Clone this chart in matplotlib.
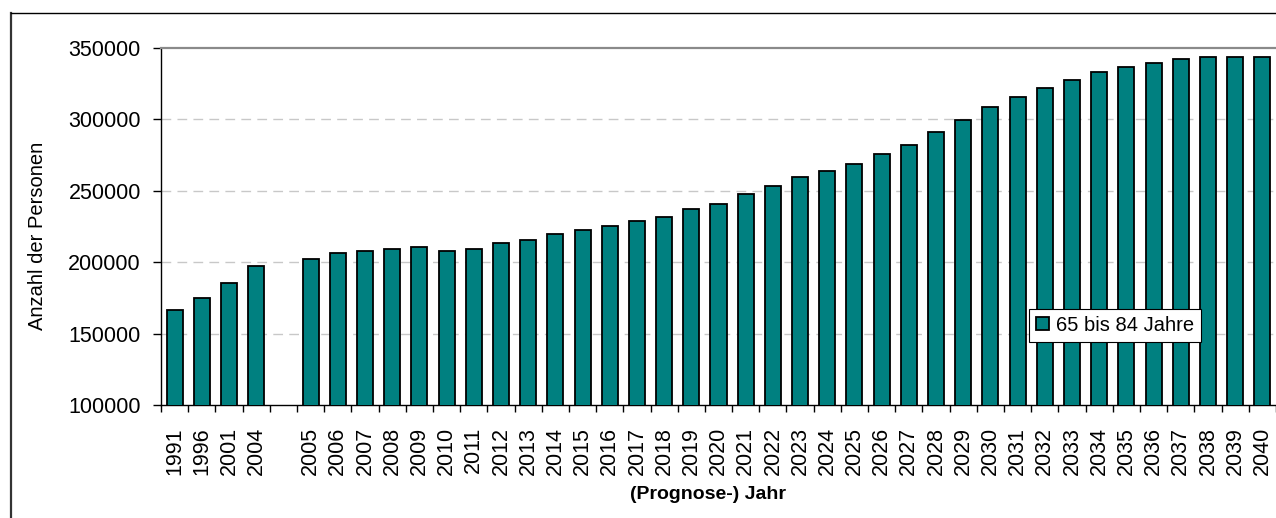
import numpy as np
import matplotlib
matplotlib.use("Agg")
import matplotlib.pyplot as plt
from matplotlib.lines import Line2D

plt.rcParams['font.family'] = ['Liberation Sans', 'DejaVu Sans']

# Daten: Personen 65 bis 84 Jahre
hist_years = ['1991', '1996', '2001', '2004']
hist_values = [166400, 174600, 185200, 197300]

prog_years = [str(y) for y in range(2005, 2041)]
prog_values = [202400, 206600, 208000, 209200, 210500, 207800, 209200, 213200,
               215700, 220000, 222500, 225100, 229100, 231700, 237100, 241000,
               247600, 253200, 259700, 263600, 268800, 275700, 282200, 291500,
               299700, 308800, 315400, 322200, 327600, 332900, 336900, 339500,
               342000, 343400, 343400, 343400]

series_name = '65 bis 84 Jahre'
y_ticks = [100000, 150000, 200000, 250000, 300000, 350000]

# Kategorien: Lücke zwischen 2004 und 2005
labels = hist_years + [''] + prog_years
values = hist_values + [np.nan] + prog_values
pos = np.arange(len(labels))

W, H = 1276, 518
fig = plt.figure(figsize=(W / 100, H / 100), dpi=100)
ax = fig.add_axes([161 / W, 1 - 405 / H, 1115 / W, 357 / H])

ax.bar(pos, values, width=0.59, color='#008080', edgecolor='black',
       linewidth=1.3, label=series_name, zorder=3)

ax.set_xlim(-0.5, len(labels) - 0.5)
ax.set_ylim(100000, 350000)
ax.set_yticks(y_ticks)
ax.set_yticklabels([str(v) for v in y_ticks])

# Gitterlinien gestrichelt
for v in y_ticks[1:-1]:
    ax.axhline(v, color='#c8c8c8', linewidth=1, dashes=(7, 4.5), zorder=1)

# Ticks an den Kategoriegrenzen, Beschriftung in der Mitte
ax.set_xticks(np.arange(len(labels) + 1) - 0.5)
ax.set_xticklabels([])
ax.set_xticks(pos, minor=True)
ax.set_xticklabels(labels, minor=True, rotation=90, fontsize=15.5)
ax.tick_params(axis='x', which='major', direction='out', length=5, width=1, color='black')
ax.tick_params(axis='x', which='minor', length=0, pad=16)
ax.tick_params(axis='y', direction='out', length=5.5, width=1, labelsize=15.5, pad=9)

ax.spines['right'].set_visible(False)
ax.spines['top'].set_color('#8a8a8a')
ax.spines['top'].set_linewidth(1.6)
ax.spines['left'].set_linewidth(1)
ax.spines['bottom'].set_linewidth(1)

ax.set_ylabel('Anzahl der Personen', fontsize=14.5, va='center')
ax.yaxis.set_label_coords(-0.1108, 0.473)
ax.set_xlabel('(Prognose-) Jahr', fontsize=14, fontweight='bold', va='center')
ax.xaxis.set_label_coords(0.4906, -0.252)

leg = ax.legend(loc='lower left', bbox_to_anchor=(0.7785, 0.1765), borderaxespad=0,
                fontsize=14.5, frameon=True, fancybox=False, framealpha=1,
                handlelength=0.63, handleheight=0.63, handletextpad=0.35, borderpad=0.35)
leg.get_frame().set_edgecolor('black')
leg.get_frame().set_linewidth(0.8)

# Rahmen um das Diagramm
fig.add_artist(Line2D([10.5 / W, 10.5 / W], [0, 1 - 12.5 / H], color='#333333',
                      linewidth=1.6, transform=fig.transFigure))
fig.add_artist(Line2D([10.5 / W, 1], [1 - 12.5 / H, 1 - 12.5 / H], color='black',
                      linewidth=1, transform=fig.transFigure))

fig.savefig('out.png', dpi=100)
